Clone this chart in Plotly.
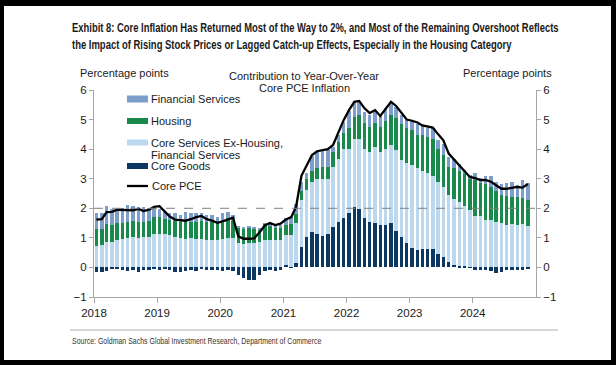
import plotly.graph_objects as go

# ---------------- data (percentage points, monthly Jan 2018 - Nov 2024) ----------------
years = [2018, 2019, 2020, 2021, 2022, 2023, 2024]
year_labels = ["2018", "2019", "2020", "2021", "2022", "2023", "2024"]
months = [f"{2018 + i // 12}-{i % 12 + 1:02d}-15" for i in range(83)]

core_goods = [
    -0.15, -0.15, -0.11, -0.06, -0.06, -0.09, -0.11, -0.09, -0.15, -0.09, -0.09, -0.06,
    -0.07, -0.06, -0.10, -0.15, -0.17, -0.13, -0.07, -0.11, -0.05, -0.09, -0.09, -0.09,
    -0.12, -0.09, -0.12, -0.26, -0.37, -0.43, -0.42, -0.25, -0.12, -0.10, -0.12, -0.08,
    0.08, 0.02, 0.15, 0.70, 1.04, 1.20, 1.13, 1.06, 1.12, 1.37, 1.52, 1.68,
    1.83, 2.03, 1.97, 1.68, 1.53, 1.51, 1.45, 1.45, 1.51, 1.23, 1.04, 0.83,
    0.67, 0.59, 0.62, 0.62, 0.62, 0.44, 0.36, 0.19, 0.08, 0.04, 0.04, 0.01,
    -0.10, -0.10, -0.10, -0.12, -0.20, -0.15, -0.10, -0.10, -0.08, -0.08, -0.02,
]
core_services_ex = [
    0.72, 0.76, 0.85, 0.87, 0.92, 0.97, 0.98, 1.03, 1.01, 1.03, 1.03, 1.14,
    1.12, 1.12, 1.10, 1.04, 0.98, 0.95, 0.98, 0.95, 0.95, 0.92, 0.92, 0.93,
    0.95, 0.98, 0.98, 0.81, 0.80, 0.81, 0.83, 0.87, 0.92, 0.92, 0.94, 0.93,
    1.01, 1.07, 1.35, 1.58, 1.58, 1.70, 1.86, 1.93, 1.87, 2.03, 2.14, 2.34,
    2.19, 2.33, 2.39, 2.34, 2.38, 2.57, 2.46, 2.57, 2.63, 2.74, 2.59, 2.69,
    2.79, 2.76, 2.64, 2.56, 2.48, 2.46, 2.37, 2.26, 2.22, 2.16, 2.04, 1.94,
    1.74, 1.73, 1.62, 1.62, 1.54, 1.50, 1.43, 1.46, 1.43, 1.46, 1.41,
]
housing = [
    0.57, 0.54, 0.62, 0.56, 0.57, 0.54, 0.56, 0.54, 0.53, 0.52, 0.55, 0.57,
    0.58, 0.53, 0.50, 0.54, 0.54, 0.60, 0.57, 0.60, 0.63, 0.60, 0.60, 0.56,
    0.56, 0.68, 0.60, 0.53, 0.52, 0.55, 0.50, 0.40, 0.55, 0.49, 0.42, 0.40,
    0.36, 0.38, 0.30, 0.30, 0.36, 0.36, 0.38, 0.40, 0.41, 0.50, 0.57, 0.51,
    0.68, 0.74, 0.79, 0.85, 0.85, 0.82, 0.85, 0.93, 1.03, 1.07, 1.21, 1.18,
    1.18, 1.13, 1.22, 1.24, 1.26, 1.10, 1.07, 0.95, 1.05, 1.05, 1.08, 1.05,
    1.20, 1.12, 1.20, 1.10, 1.04, 0.95, 0.97, 0.92, 0.95, 0.90, 0.87,
]
financial_services = [
    0.56, 0.55, 0.60, 0.55, 0.47, 0.49, 0.56, 0.50, 0.49, 0.50, 0.42, 0.34,
    0.27, 0.24, 0.23, 0.27, 0.25, 0.31, 0.28, 0.28, 0.25, 0.25, 0.25, 0.21,
    0.32, 0.20, 0.18, 0.04, 0.05, 0.03, 0.05, 0.06, 0.03, 0.04, 0.04, 0.12,
    0.21, 0.24, 0.35, 0.32, 0.20, 0.50, 0.55, 0.57, 0.57, 0.18, 0.25, 0.40,
    0.59, 0.45, 0.45, 0.39, 0.41, 0.42, 0.39, 0.43, 0.43, 0.39, 0.31, 0.28,
    0.32, 0.36, 0.31, 0.28, 0.34, 0.30, 0.39, 0.34, 0.30, 0.25, 0.14, 0.12,
    0.24, 0.17, 0.28, 0.36, 0.32, 0.38, 0.45, 0.52, 0.41, 0.58, 0.56,
]
core_pce = [
    1.62, 1.63, 1.87, 1.88, 1.95, 1.95, 1.95, 1.93, 1.98, 1.91, 1.95, 2.05,
    2.07, 1.90, 1.72, 1.62, 1.60, 1.58, 1.63, 1.70, 1.74, 1.63, 1.58, 1.51,
    1.56, 1.62, 1.68, 1.05, 0.97, 0.97, 0.98, 1.18, 1.42, 1.50, 1.43, 1.48,
    1.62, 1.70, 2.05, 3.10, 3.42, 3.80, 3.93, 3.97, 4.00, 4.14, 4.60, 4.98,
    5.32, 5.60, 5.63, 5.38, 5.22, 5.32, 5.12, 5.36, 5.60, 5.46, 5.22, 5.00,
    4.96, 4.90, 4.80, 4.77, 4.73, 4.50, 4.30, 3.85, 3.65, 3.42, 3.22, 3.06,
    3.02, 2.95, 2.96, 2.90, 2.78, 2.66, 2.66, 2.70, 2.72, 2.70, 2.82,
]
y_ticks = [-1, 0, 1, 2, 3, 4, 5, 6]
target = 2

# ---------------- styling ----------------
C_GOODS = "#0c3763"
C_SVC = "#bcd8ef"
C_HOUS = "#1a8a4c"
C_FIN = "#7d9dca"
AXIS = "#a6a6a6"
TXT = "#1a1a1a"
FONT = "Liberation Sans, Arial, sans-serif"

W, H = 616, 365
L, R, T, B = 94, 536, 90, 297  # plot area pixels


def px(x):
    return (x - L) / (R - L)


def py(y):
    return (B - y) / (B - T)


BAR_W = 1.75e9  # ms

fig = go.Figure()
for name, vals, col in [
    ("Core Goods", core_goods, C_GOODS),
    ("Core Services Ex-Housing, Financial Services", core_services_ex, C_SVC),
    ("Housing", housing, C_HOUS),
    ("Financial Services", financial_services, C_FIN),
]:
    fig.add_trace(go.Bar(x=months, y=vals, name=name, marker=dict(color=col, line=dict(width=0)),
                         width=BAR_W, showlegend=False))

fig.add_trace(go.Scatter(x=months, y=core_pce, name="Core PCE", mode="lines",
                         line=dict(color="black", width=2.3), showlegend=False))
fig.add_trace(go.Scatter(x=months, y=core_pce, yaxis="y2", mode="lines",
                         line=dict(width=0), opacity=0, hoverinfo="skip", showlegend=False))

shapes = [
    # white page inside black frame
    dict(type="rect", xref="paper", yref="paper", x0=px(4), x1=px(611), y0=py(360), y1=py(6),
         fillcolor="white", line=dict(width=0), layer="below"),
    # target line
    dict(type="line", xref="paper", yref="y", x0=0, x1=1, y0=target, y1=target,
         line=dict(color="#808080", width=1, dash="dash"), layer="above"),
    # source separator
    dict(type="line", xref="paper", yref="paper", x0=px(70), x1=px(558), y0=py(330), y1=py(330),
         line=dict(color="#b0b0b0", width=1)),
]

annotations = []


def text(x, y, s, size=11, anchor="left", color=TXT, weight="normal", align="center", pad=1):
    annotations.append(dict(x=px(x), y=py(y), xref="paper", yref="paper", text=s, showarrow=False,
                            xanchor=anchor, yanchor="middle", align=align, borderpad=pad,
                            font=dict(family=FONT, size=size, color=color, weight=weight)))


# title (condensed horizontally to the reference width in the post script)
text(70, 28, "Exhibit 8: Core Inflation Has Returned Most of the Way to 2%, and Most of the Remaining Overshoot Reflects",
     size=12.5, weight="bold", align="left")
text(70, 45, "the Impact of Rising Stock Prices or Lagged Catch-up Effects, Especially in the Housing Category",
     size=12.5, weight="bold", align="left")
text(124, 73, "Percentage points", size=11, anchor="center")
text(507, 73, "Percentage points", size=11, anchor="center")
text(304, 76, "Contribution to Year-Over-Year", size=11, anchor="center")
text(304, 88, "Core PCE Inflation", size=11, anchor="center")
text(70, 341, "Source: Goldman Sachs Global Investment Research, Department of Commerce", size=8.5,
     color="#333333", align="left")

# legend (manual, to match reference spacing)
legend_items = [
    ("Financial Services", C_FIN, 99, 7),
    ("Housing", C_HOUS, 121, 6),
    ("Core Services Ex-Housing,", C_SVC, 142.5, 6),
    ("Core Goods", C_GOODS, 166, 6),
]
for label, col, yy, hh in legend_items:
    shapes.append(dict(type="rect", xref="paper", yref="paper", x0=px(127), x1=px(148),
                       y0=py(yy + hh / 2), y1=py(yy - hh / 2), fillcolor=col, line=dict(width=0)))
    text(150, yy, label, size=11, pad=0)
text(150, 154.5, "Financial Services", size=11, pad=0)
shapes.append(dict(type="line", xref="paper", yref="paper", x0=px(127), x1=px(148), y0=py(186), y1=py(186),
                   line=dict(color="black", width=2.3)))
text(150, 186, "Core PCE", size=11)

yax = dict(range=[-1, 6], tickvals=y_ticks, ticks="outside", ticklen=4, tickcolor=AXIS, showline=True,
           linecolor=AXIS, linewidth=1, showgrid=False, zeroline=False,
           tickfont=dict(family=FONT, size=11.5, color=TXT), fixedrange=True)

fig.update_layout(
    width=W, height=H,
    margin=dict(l=L, r=W - R, t=T, b=H - B, pad=0),
    paper_bgcolor="black", plot_bgcolor="rgba(0,0,0,0)",
    barmode="relative", bargap=0,
    showlegend=False,
    xaxis=dict(type="date", range=["2018-01-01", "2025-01-01"],
               tickvals=[f"{y}-01-01" for y in years], ticktext=year_labels,
               ticks="outside", ticklen=5, tickcolor=AXIS, showline=True, linecolor=AXIS, linewidth=1,
               showgrid=False, zeroline=False, tickfont=dict(family=FONT, size=11.5, color=TXT),
               fixedrange=True),
    yaxis=yax,
    yaxis2=dict(yax, overlaying="y", side="right"),
    shapes=shapes,
    annotations=annotations,
)

post = """
document.body.style.margin = '0px';
var widths = {'Exhibit 8': 487, 'the Impact': 440, 'Source:': 250};
document.querySelectorAll('g.annotation').forEach(function (g) {
  var t = g.querySelector('.annotation-text');
  if (!t) return;
  var s = t.textContent;
  for (var k in widths) {
    if (s.indexOf(k) === 0) {
      var tb = t.getBoundingClientRect();
      var sc = widths[k] / tb.width;
      var x0 = tb.left;
      g.setAttribute('transform', 'translate(' + x0 + ',0) scale(' + sc + ',1) translate(' + (-x0) + ',0)');
    }
  }
});
"""

fig.write_html("out.html", post_script=post, config={"displayModeBar": False})
